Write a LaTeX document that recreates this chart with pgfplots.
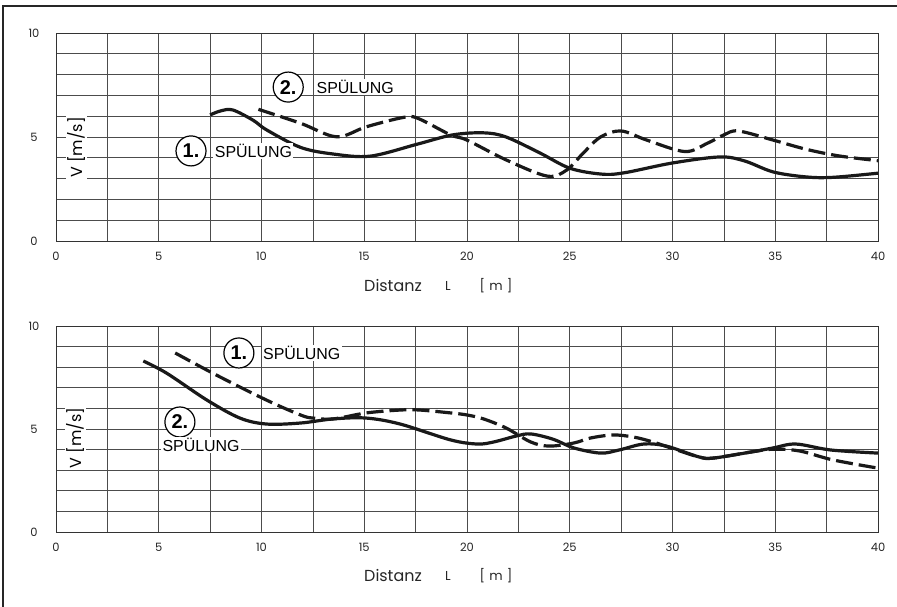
\documentclass[border=0pt]{standalone}
\usepackage{pgfplots}
\pgfplotsset{compat=1.18}
\usepackage{fontspec}
\setmainfont{Poppins}
\newfontfamily\helv{Liberation Sans}
\tikzset{
  circ/.style={circle, draw, line width=1.2bp, fill=white, minimum size=30bp, inner sep=0pt, font=\helv\bfseries\fontsize{20}{20}\selectfont},
  spl/.style={anchor=west, fill=white, inner sep=1.5bp, font=\helv\fontsize{16}{16}\selectfont},
  vlab/.style={rotate=90, fill=white, inner sep=1.5bp, font=\fontsize{16}{16}\selectfont},
  solidc/.style={black!90, line width=3.2bp, smooth, tension=0.55},
  dashc/.style={black!90, line width=3.2bp, smooth, tension=0.55, dash pattern=on 17bp off 6bp},
}
\pgfplotsset{myax/.style={
  scale only axis, width=822bp,
  xmin=0, xmax=40, ymin=0, ymax=10,
  xtick={0,5,...,40}, ytick={0,5,10},
  minor xtick={2.5,7.5,...,37.5}, minor ytick={1,2,3,4,6,7,8,9},
  grid=both,
  major grid style={black!70, line width=0.6bp},
  minor grid style={black!70, line width=0.6bp},
  major tick length=0pt, minor tick length=0pt,
  axis line style={black!80, line width=0.8bp},
  /pgf/number format/assume math mode=true,
  tick label style={font=\fontsize{11.5}{11.5}\selectfont, black!85},
  xticklabel style={anchor=center, yshift=-15bp},
  yticklabel style={anchor=center, xshift=-22bp},
  clip=false,
}}
\begin{document}
\begin{tikzpicture}[x=1bp,y=1bp]
\useasboundingbox (0,0) rectangle (897,607);
\fill[white] (0,0) rectangle (897,607);
\draw[line width=1.6bp, black!85] (3,0) -- (3,601) -- (897,601);
% top panel
\begin{axis}[myax, height=208bp, at={(56bp,366bp)}, anchor=south west]
\node[vlab] at (axis cs:1.0,4.5) {V [m/s]};
\addplot[dashc] coordinates {(9.85,6.33)(11.9,5.66)(13.65,5.01)(15.1,5.49)(16.9,5.94)(17.6,5.9)(19.2,5.1)(20.0,4.85)(21.9,3.9)(23.9,3.12)(24.85,3.41)(25.65,4.22)(26.5,5.0)(27.5,5.29)(28.75,4.85)(30.6,4.3)(31.7,4.7)(32.5,5.1)(33.2,5.29)(34.9,4.85)(36.5,4.41)(38.1,4.09)(40,3.86)};
\addplot[solidc] coordinates {(7.5,6.06)(8.0,6.25)(8.6,6.3)(9.6,5.8)(10.25,5.34)(11.9,4.5)(13.5,4.18)(15.3,4.08)(17.6,4.66)(19.3,5.1)(20.8,5.2)(21.9,5.0)(23.55,4.23)(25.0,3.5)(26.5,3.22)(27.6,3.27)(30.0,3.75)(32.3,4.04)(33.5,3.85)(34.9,3.32)(36.5,3.08)(37.8,3.06)(40,3.26)};
\node[circ] at (axis cs:11.3,7.4) {2.};
\node[spl] at (axis cs:12.6,7.4) {SPÜLUNG};
\node[circ] at (axis cs:6.57,4.33) {1.};
\node[spl] at (axis cs:7.65,4.33) {SPÜLUNG};
\end{axis}
% bottom panel
\begin{axis}[myax, height=206bp, at={(56bp,75bp)}, anchor=south west]
\node[vlab] at (axis cs:0.95,4.56) {V [m/s]};
\addplot[dashc] coordinates {(5.8,8.69)(7.8,7.62)(10.25,6.4)(11.9,5.68)(12.5,5.53)(13.5,5.49)(15.1,5.78)(16.75,5.92)(17.7,5.92)(19.2,5.78)(20.0,5.68)(20.8,5.49)(21.9,5.05)(23.1,4.37)(24.0,4.17)(25.2,4.32)(26.0,4.56)(27.1,4.71)(28.1,4.61)(29.05,4.37)(30.0,4.05)(31.3,3.64)(32.0,3.59)(33.8,3.88)(34.9,4.02)(36.2,3.93)(37.8,3.5)(40,3.1)};
\addplot[solidc] coordinates {(4.25,8.3)(5.4,7.7)(7.35,6.4)(8.95,5.53)(10.25,5.24)(11.9,5.29)(13.5,5.49)(15.1,5.53)(16.75,5.24)(19.2,4.47)(20.5,4.27)(21.3,4.37)(22.4,4.66)(23.1,4.76)(24.2,4.5)(25.2,4.08)(26.5,3.83)(27.4,3.98)(28.6,4.27)(29.7,4.17)(31.3,3.64)(32.0,3.59)(33.8,3.88)(34.9,4.08)(36.0,4.27)(37.7,3.98)(40,3.83)};
\node[circ] at (axis cs:8.9,8.69) {1.};
\node[spl] at (axis cs:10.0,8.69) {SPÜLUNG};
\node[circ] at (axis cs:6.03,5.34) {2.};
\node[spl, anchor=center] at (axis cs:7.06,4.22) {SPÜLUNG};
\end{axis}
% x labels
\foreach \yy in {321,31} {
  \node[font=\fontsize{16}{16}\selectfont, black!85] at (393,\yy) {Distanz};
  \node[font=\fontsize{13}{13}\selectfont, black!85] at (448,\yy) {L};
  \node[font=\fontsize{13}{13}\selectfont, black!85] at (496,\yy) {[\,\,m\,\,]};
}
\end{tikzpicture}
\end{document}
